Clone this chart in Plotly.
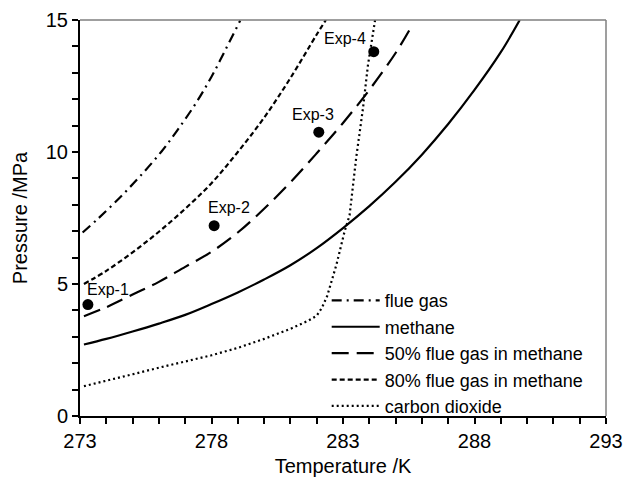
import plotly.graph_objects as go

# ---- data ----
flue_T = [273.1, 273.68, 274.5, 275.3, 276.1, 276.72, 277.42, 278.0, 278.56, 279.09]
flue_P = [6.95, 7.47, 8.26, 9.1, 10.02, 10.85, 11.87, 12.85, 13.93, 14.98]

methane_T = [273.15, 274, 275, 276, 277, 278, 279, 280, 281, 282, 283, 284, 285, 286, 287, 288, 289, 289.72]
methane_P = [2.71, 2.92, 3.2, 3.5, 3.83, 4.24, 4.68, 5.17, 5.71, 6.36, 7.12, 7.95, 8.87, 9.9, 11.06, 12.35, 13.78, 15.0]

fg50_T = [273.15, 274, 275, 276, 277, 278, 279, 280, 281, 282, 283, 284, 285, 285.6]
fg50_P = [3.78, 4.12, 4.6, 5.08, 5.65, 6.22, 6.95, 7.85, 8.85, 9.95, 11.1, 12.35, 13.75, 14.75]

fg80_T = [273.15, 274, 275, 276, 277, 278, 279, 280, 281, 282, 282.35]
fg80_P = [5.0, 5.5, 6.2, 6.98, 7.85, 8.82, 10.0, 11.3, 12.8, 14.45, 15.0]

co2_T = [273.15, 274, 275, 276, 277, 278, 279, 280, 281, 281.7, 282.0, 282.2, 282.4, 282.75, 283.06, 283.25, 283.5, 283.76, 283.95, 284.14, 284.22]
co2_P = [1.13, 1.35, 1.58, 1.83, 2.06, 2.3, 2.58, 2.92, 3.3, 3.62, 3.8, 4.1, 4.55, 5.73, 6.99, 7.6, 9.77, 11.66, 13.3, 14.43, 15.0]

exp_T = [273.3, 278.1, 282.08, 284.17]
exp_P = [4.22, 7.21, 10.75, 13.8]
exp_labels = ["Exp-1", "Exp-2", "Exp-3", "Exp-4"]
exp_label_T = [274.06, 278.65, 281.86, 283.06]
exp_label_P = [4.8, 7.88, 11.43, 14.31]

x_ticks = [273, 278, 283, 288, 293]
y_ticks = [0, 5, 10, 15]

FONT = "Liberation Sans, Arial, sans-serif"

fig = go.Figure()
series = [
    ("flue gas", flue_T, flue_P, "10px,5px,2px,5px", "spline"),
    ("methane", methane_T, methane_P, "solid", "spline"),
    ("50% flue gas in methane", fg50_T, fg50_P, "17px,8px", "spline"),
    ("80% flue gas in methane", fg80_T, fg80_P, "5px,3px", "spline"),
    ("carbon dioxide", co2_T, co2_P, "2px,3px", "linear"),
]
for name, xs, ys, dash, shp in series:
    fig.add_trace(go.Scatter(
        x=xs, y=ys, mode="lines", name=name,
        line=dict(color="black", width=2.2, dash=dash, shape=shp),
    ))

fig.add_trace(go.Scatter(
    x=exp_T, y=exp_P, mode="markers", showlegend=False,
    marker=dict(color="black", size=11),
))

for lab, lx, ly in zip(exp_labels, exp_label_T, exp_label_P):
    fig.add_annotation(x=lx, y=ly, text=lab, showarrow=False,
                       font=dict(family=FONT, size=16, color="black"))

# top and right frame lines (grey)
fig.add_shape(type="line", xref="paper", yref="paper", x0=0, x1=1, y0=1, y1=1,
              line=dict(color="#7f7f7f", width=1.5))
fig.add_shape(type="line", xref="paper", yref="paper", x0=1, x1=1, y0=0, y1=1,
              line=dict(color="#7f7f7f", width=1.5))

fig.update_layout(
    width=623, height=483,
    margin=dict(l=80, r=17, t=20, b=66.5, autoexpand=False),
    plot_bgcolor="white", paper_bgcolor="white",
    font=dict(family=FONT, size=20, color="black"),
    showlegend=True,
    legend=dict(x=0.469, y=0.338, xanchor="left", yanchor="top",
                bgcolor="rgba(0,0,0,0)", borderwidth=0,
                font=dict(family=FONT, size=18, color="black"),
                itemwidth=48, tracegroupgap=0),
    xaxis=dict(
        range=[273, 293], tickvals=x_ticks, ticktext=[str(v) for v in x_ticks],
        automargin=False,
        showgrid=False, zeroline=False, showline=True, linecolor="black", linewidth=2,
        ticks="outside", ticklen=6, tickwidth=1.5, tickcolor="black",
        minor=dict(dtick=1, ticks="outside", ticklen=6, tickwidth=1.5, tickcolor="black", showgrid=False),
        title=dict(text="Temperature /K", font=dict(size=20), standoff=8),
        tickfont=dict(size=20),
    ),
    yaxis=dict(
        range=[0, 15], tickvals=y_ticks, ticktext=[str(v) for v in y_ticks],
        automargin=False,
        showgrid=False, zeroline=False, showline=True, linecolor="black", linewidth=2,
        ticks="outside", ticklen=6, tickwidth=1.5, tickcolor="black",
        minor=dict(dtick=1, ticks="outside", ticklen=6, tickwidth=1.5, tickcolor="black", showgrid=False),
        title=dict(text="Pressure /MPa", font=dict(size=20), standoff=13),
        tickfont=dict(size=20),
    ),
)

fig.write_html("out.html")
